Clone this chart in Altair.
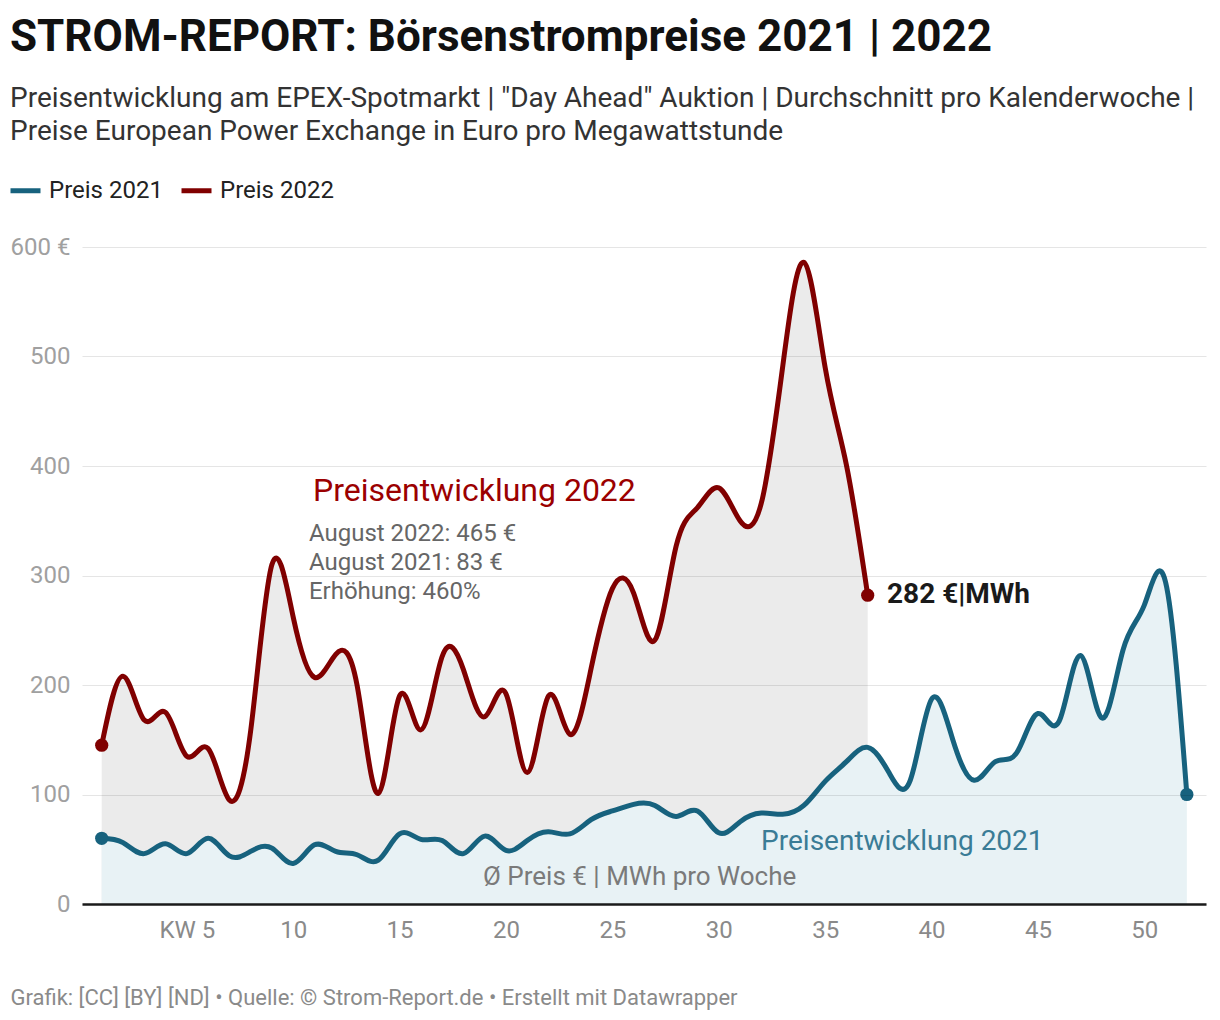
import altair as alt
import pandas as pd

# ---------------- data ----------------
weeks_2021 = list(range(1, 53))
preis_2021 = [60, 56, 46, 55, 46, 60, 44, 48, 51, 37,
              54, 48, 45, 40, 64, 59, 58, 46, 62, 49,
              58, 66, 64, 77, 85, 91, 90, 80, 85, 65,
              75, 83, 82, 90, 112, 130, 143, 120, 113, 187,
              150, 113, 130, 138, 174, 167, 227, 170, 232, 273,
              294, 100]

weeks_2022 = list(range(1, 38))
preis_2022 = [145, 208, 168, 175, 135, 142, 95, 158, 310, 262,
              207, 228, 200, 101, 190, 159, 226, 214, 171, 192,
              120, 190, 155, 215, 288, 284, 241, 327, 362, 380,
              350, 366, 490, 586, 490, 401, 282]

series_names = ["Preis 2021", "Preis 2022"]
x_ticks = [5, 10, 15, 20, 25, 30, 35, 40, 45, 50]
y_ticks = [0, 100, 200, 300, 400, 500, 600]

# annotations (week, value, text)
ann22_title_kw, ann22_title_val, ann22_title_txt = [10.93], [377], ["Preisentwicklung 2022"]
ann22_info_kw = [10.74, 10.74, 10.74]
ann22_info_val = [338, 311.4, 285]
ann22_info_txt = ["August 2022: 465 €", "August 2021: 83 €", "Erhöhung: 460%"]
ann_end_kw, ann_end_val, ann_end_txt = [37.91], [282], ["282 €|MWh"]
ann21_kw, ann21_val, ann21_txt = [31.99], [56.6], ["Preisentwicklung 2021"]
unit_kw, unit_val, unit_txt = [18.92], [24.7], ["Ø Preis € | MWh pro Woche"]

TITLE = "STROM-REPORT: Börsenstrompreise 2021 | 2022"
SUBTITLE = ["Preisentwicklung am EPEX-Spotmarkt | \"Day Ahead\" Auktion | Durchschnitt pro Kalenderwoche |",
            "Preise European Power Exchange in Euro pro Megawattstunde"]
FOOTER = "Grafik: [CC] [BY] [ND] • Quelle: © Strom-Report.de • Erstellt mit Datawrapper"

BLUE = "#17627e"
RED = "#800000"
FONT = "Roboto"
CURVE = "natural"

# ---------------- tables ----------------
df21 = pd.DataFrame({"KW": weeks_2021, "Preis": preis_2021, "Serie": series_names[0]})
df22 = pd.DataFrame({"KW": weeks_2022, "Preis": preis_2022, "Serie": series_names[1]})
df_all = pd.concat([df21, df22], ignore_index=True)
df_dots = pd.concat([df21.iloc[[0, -1]], df22.iloc[[0, -1]]], ignore_index=True)

def tdf(kw, val, txt):
    return pd.DataFrame({"KW": kw, "Preis": val, "text": txt})

x_scale = alt.Scale(domain=[0.074, 52.9], nice=False, zero=False)
y_scale = alt.Scale(domain=[0, 600], nice=False)
color_scale = alt.Scale(domain=series_names, range=[BLUE, RED])

X = alt.X("KW:Q", scale=x_scale, title=FOOTER,
          axis=alt.Axis(values=x_ticks,
                        labelExpr="datum.value == 5 ? 'KW 5' : datum.label",
                        grid=False, ticks=False,
                        domainColor="#1a1a1a", domainWidth=2.5,
                        labelColor="#8a8a8a", labelFontSize=24, labelFont=FONT,
                        labelPadding=14,
                        titleX=-72, titleY=93, titleAlign="left", titleAnchor="start",
                        titleBaseline="middle", titleFontSize=22, titleFont=FONT,
                        titleFontWeight="normal", titleColor="#8a8a8a",
                        zindex=1))
Y = alt.Y("Preis:Q", scale=y_scale, title=None,
          axis=alt.Axis(values=y_ticks,
                        labelExpr="datum.value == 600 ? '600 €' : datum.label",
                        domain=False, ticks=False,
                        gridColor="#000000", gridOpacity=0.1, gridWidth=1,
                        labelColor="#a0a0a0", labelFontSize=24, labelFont=FONT,
                        labelPadding=12, labelBaseline="middle",
                        zindex=1))

area22 = alt.Chart(df22).mark_area(color="#ebebeb", opacity=1, interpolate=CURVE).encode(x=X, y=Y)
area21 = alt.Chart(df21).mark_area(color="#e8f2f5", opacity=1, interpolate=CURVE).encode(x=X, y=Y)

lines = alt.Chart(df_all).mark_line(strokeWidth=5, interpolate=CURVE,
                                    strokeCap="round", strokeJoin="round").encode(
    x=X, y=Y,
    color=alt.Color("Serie:N", scale=color_scale,
                    legend=alt.Legend(orient="none", legendX=-74, legendY=-74,
                                      direction="horizontal", title=None,
                                      symbolType="stroke", symbolSize=900,
                                      symbolStrokeWidth=5,
                                      labelFontSize=24, labelFont=FONT,
                                      labelColor="#222222", labelOffset=6,
                                      columnPadding=8)),
    detail="Serie:N")

dots = alt.Chart(df_dots).mark_circle(size=175, opacity=1).encode(
    x=X, y=Y, color=alt.Color("Serie:N", scale=color_scale, legend=None))

def text_layer(df, **kw):
    return alt.Chart(df).mark_text(align="left", baseline="middle", font=FONT, **kw).encode(
        x=alt.X("KW:Q", scale=x_scale), y=alt.Y("Preis:Q", scale=y_scale), text="text:N")

t22 = text_layer(tdf(ann22_title_kw, ann22_title_val, ann22_title_txt), fontSize=32, color="#9b0000")
t22i = text_layer(tdf(ann22_info_kw, ann22_info_val, ann22_info_txt), fontSize=24, color="#666666")
tend = text_layer(tdf(ann_end_kw, ann_end_val, ann_end_txt), fontSize=28, fontWeight="bold", color="#1a1a1a")
t21 = text_layer(tdf(ann21_kw, ann21_val, ann21_txt), fontSize=28, color="#3a7c96")
tunit = text_layer(tdf(unit_kw, unit_val, unit_txt), fontSize=26, color="#7a7a7a")

chart = alt.layer(area22, area21, lines, dots, t22, t22i, tend, t21, tunit).properties(
    width=1124, height=657,
    background="white",
    autosize=alt.AutoSizeParams(type="none"),
    padding={"left": 74, "top": 239, "right": 6, "bottom": 108},
    title=alt.Title(text=TITLE, subtitle=SUBTITLE, anchor="start", frame="group", dx=-72,
                    font=FONT, fontSize=44, fontWeight="bold", color="#111111",
                    subtitleFont=FONT, subtitleFontSize=28, subtitleColor="#333333",
                    subtitleLineHeight=33, subtitlePadding=25, offset=27),
).configure_view(stroke=None)

chart.save("out.html", embed_options={"renderer": "svg", "actions": False})
